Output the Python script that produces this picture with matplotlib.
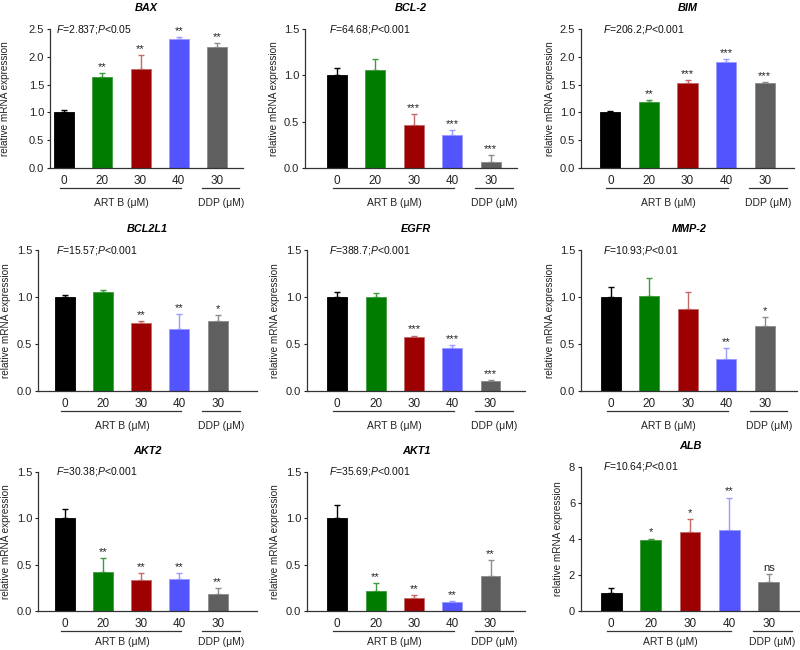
import matplotlib.pyplot as plt
import matplotlib.transforms as mtransforms

plt.rcParams['font.family'] = ['Liberation Sans', 'DejaVu Sans']
plt.rcParams['mathtext.fontset'] = 'custom'
plt.rcParams['mathtext.rm'] = 'Liberation Sans'
plt.rcParams['mathtext.it'] = 'Liberation Sans:italic'

# data
doses = ['0', '20', '30', '40', '30']
genes = ['BAX', 'BCL-2', 'BIM', 'BCL2L1', 'EGFR', 'MMP-2', 'AKT2', 'AKT1', 'ALB']
f_text = ['2.837', '64.68', '206.2', '15.57', '388.7', '10.93', '30.38', '35.69', '10.64']
p_text = ['0.05', '0.001', '0.001', '0.001', '0.001', '0.01', '0.001', '0.001', '0.01']

bax_mean = [1.0, 1.63, 1.78, 2.32, 2.17]
bax_err = [0.04, 0.07, 0.25, 0.03, 0.07]
bax_sig = ['', '**', '**', '**', '**']

bcl2_mean = [1.0, 1.06, 0.46, 0.36, 0.07]
bcl2_err = [0.08, 0.12, 0.12, 0.05, 0.07]
bcl2_sig = ['', '', '***', '***', '***']

bim_mean = [1.0, 1.18, 1.53, 1.90, 1.53]
bim_err = [0.02, 0.04, 0.05, 0.06, 0.02]
bim_sig = ['', '**', '***', '***', '***']

bcl2l1_mean = [1.0, 1.05, 0.72, 0.66, 0.75]
bcl2l1_err = [0.02, 0.02, 0.02, 0.16, 0.06]
bcl2l1_sig = ['', '', '**', '**', '*']

egfr_mean = [1.0, 1.0, 0.57, 0.46, 0.11]
egfr_err = [0.05, 0.04, 0.02, 0.03, 0.01]
egfr_sig = ['', '', '***', '***', '***']

mmp2_mean = [1.0, 1.01, 0.87, 0.34, 0.69]
mmp2_err = [0.11, 0.19, 0.18, 0.12, 0.10]
mmp2_sig = ['', '', '', '**', '*']

akt2_mean = [1.0, 0.42, 0.33, 0.34, 0.18]
akt2_err = [0.10, 0.15, 0.08, 0.07, 0.07]
akt2_sig = ['', '**', '**', '**', '**']

akt1_mean = [1.0, 0.22, 0.14, 0.10, 0.38]
akt1_err = [0.14, 0.08, 0.03, 0.01, 0.17]
akt1_sig = ['', '**', '**', '**', '**']

alb_mean = [1.0, 3.92, 4.40, 4.52, 1.62]
alb_err = [0.28, 0.10, 0.70, 1.78, 0.45]
alb_sig = ['', '*', '*', '**', 'ns']

means = [bax_mean, bcl2_mean, bim_mean, bcl2l1_mean, egfr_mean,
         mmp2_mean, akt2_mean, akt1_mean, alb_mean]
errs = [bax_err, bcl2_err, bim_err, bcl2l1_err, egfr_err,
        mmp2_err, akt2_err, akt1_err, alb_err]
sigs = [bax_sig, bcl2_sig, bim_sig, bcl2l1_sig, egfr_sig,
        mmp2_sig, akt2_sig, akt1_sig, alb_sig]
ymax = [2.5, 1.5, 2.5, 1.5, 1.5, 1.5, 1.5, 1.5, 8]

bar_colors = ['#000000', '#007d00', '#9c0000', '#5454ff', '#5f5f5f']
err_colors = ['#000000', '#3f9a3f', '#c26a6a', '#9a9aff', '#8c8c8c']

# panel boxes in pixels: left, top, right, bottom
boxes = [(50, 29, 243, 168), (305, 29, 517, 168), (581, 29, 794, 168),
         (38, 250, 257, 391), (307, 250, 525, 391), (581, 250, 797, 391),
         (38, 472, 257, 611), (307, 472, 525, 611), (581, 467, 799, 611)]
xlims = [(-0.37, 4.68), (-0.82, 4.68), (-0.76, 4.76),
         (-0.70, 5.03), (-0.79, 4.9), (-0.77, 4.83),
         (-0.70, 5.03), (-0.79, 4.9), (-0.77, 4.77)]
lab_gap = [40, 26, 26, 27, 27, 26, 27, 27, 18]
stat_off = [6, 24, 22, 18, 22, 22, 18, 22, 22]
group_gap = [35, 35, 35, 35, 35, 35, 31, 31, 31]

W, H = 800, 650
fig = plt.figure(figsize=(8, 6.5), dpi=100)

x = list(range(len(doses)))
for i, gene in enumerate(genes):
    l, t, r, b = boxes[i]
    ax = fig.add_axes([l / W, 1 - b / H, (r - l) / W, (b - t) / H])
    wpx, hpx = r - l, b - t

    ax.bar(x, means[i], width=0.52, color=bar_colors, edgecolor=err_colors,
           linewidth=0.6, zorder=2)
    for j in x:
        ax.errorbar(j, means[i][j], yerr=[[0], [errs[i][j]]], fmt='none',
                    ecolor=err_colors[j], elinewidth=1.0, capsize=2.5,
                    capthick=1.0, zorder=1)
        if sigs[i][j]:
            ax.text(j, means[i][j] + errs[i][j] + ymax[i] * 0.008, sigs[i][j],
                    ha='center', va='bottom', fontsize=8, color='#222222')

    ax.set_xlim(*xlims[i])
    ax.set_ylim(0, ymax[i])
    if ymax[i] == 8:
        ax.set_yticks([0, 2, 4, 6, 8])
        ax.set_yticklabels(['0', '2', '4', '6', '8'])
    else:
        ticks = [k * 0.5 for k in range(int(ymax[i] / 0.5) + 1)]
        ax.set_yticks(ticks)
        ax.set_yticklabels([f'{v:.1f}' for v in ticks])
    ax.set_xticks(x)
    ax.set_xticklabels(doses)
    ax.tick_params(axis='x', length=0, pad=5, labelsize=8.5, colors='#222222')
    ax.tick_params(axis='y', length=2.2, width=0.8, pad=2, labelsize=8,
                   colors='#222222', direction='out')
    for s in ['top', 'right']:
        ax.spines[s].set_visible(False)
    for s in ['left', 'bottom']:
        ax.spines[s].set_linewidth(0.9)
        ax.spines[s].set_color('#333333')

    ax.set_ylabel('relative mRNA expression', fontsize=7.2, color='#222222')
    ax.yaxis.set_label_coords(-lab_gap[i] / wpx, 0.5)
    ax.set_title(gene, fontsize=7.8, fontweight='bold', fontstyle='italic',
                 pad=13)

    ax.text(stat_off[i] / wpx, 1.0,
            r'$\mathit{F}$=' + f_text[i] + r';$\mathit{P}$<' + p_text[i],
            transform=ax.transAxes, ha='left', va='center', fontsize=7.5,
            color='#111111')

    trans = mtransforms.blended_transform_factory(ax.transData, ax.transAxes)
    ly = -20.0 / hpx
    ty = -group_gap[i] / hpx
    ax.plot([-0.1, 3.05], [ly, ly], transform=trans, color='#333333',
            lw=0.9, clip_on=False)
    ax.plot([3.6, 4.58], [ly, ly], transform=trans, color='#333333',
            lw=0.9, clip_on=False)
    ax.text(1.5, ty, 'ART B (\u03bcM)', transform=trans, ha='center',
            va='center', fontsize=7.5, color='#222222')
    ax.text(4.1, ty, 'DDP (\u03bcM)', transform=trans, ha='center',
            va='center', fontsize=7.5, color='#222222')

fig.savefig('out.png', dpi=100, facecolor='white')
